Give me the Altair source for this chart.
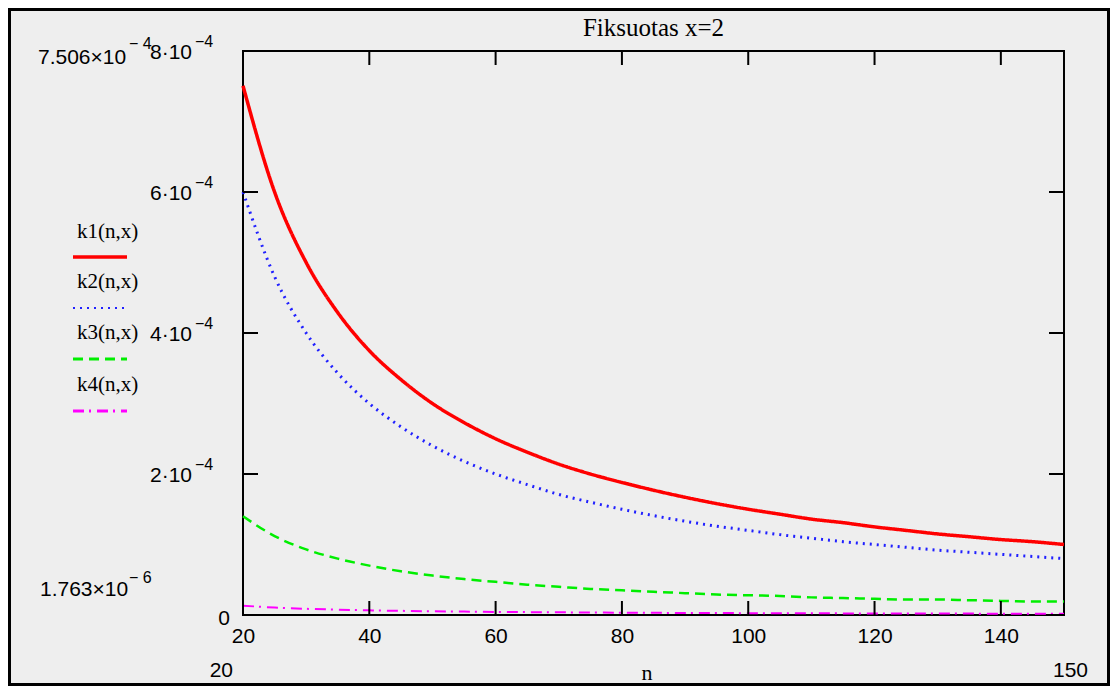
import altair as alt
import pandas as pd

# ---------------- data ----------------
n_values = [20, 25, 30, 35, 40, 45, 50, 55, 60, 65, 70, 75, 80, 85, 90, 95,
            100, 105, 110, 115, 120, 125, 130, 135, 140, 145, 150]
k1_values = [7.506e-4, 6.00e-4, 5.00e-4, 4.29e-4, 3.75e-4, 3.34e-4, 3.00e-4, 2.73e-4,
             2.50e-4, 2.31e-4, 2.14e-4, 2.00e-4, 1.88e-4, 1.77e-4, 1.67e-4, 1.58e-4,
             1.50e-4, 1.43e-4, 1.36e-4, 1.31e-4, 1.25e-4, 1.20e-4, 1.15e-4, 1.11e-4,
             1.07e-4, 1.04e-4, 1.00e-4]
k2_values = [6.00e-4, 4.80e-4, 4.00e-4, 3.43e-4, 3.00e-4, 2.67e-4, 2.40e-4, 2.18e-4,
             2.00e-4, 1.85e-4, 1.71e-4, 1.60e-4, 1.50e-4, 1.41e-4, 1.33e-4, 1.26e-4,
             1.20e-4, 1.14e-4, 1.09e-4, 1.04e-4, 1.00e-4, 0.96e-4, 0.92e-4, 0.89e-4,
             0.86e-4, 0.83e-4, 0.80e-4]
k3_values = [1.40e-4, 1.12e-4, 0.93e-4, 0.80e-4, 0.70e-4, 0.62e-4, 0.56e-4, 0.51e-4,
             0.47e-4, 0.43e-4, 0.40e-4, 0.37e-4, 0.35e-4, 0.33e-4, 0.31e-4, 0.29e-4,
             0.28e-4, 0.27e-4, 0.25e-4, 0.24e-4, 0.23e-4, 0.22e-4, 0.22e-4, 0.21e-4,
             0.20e-4, 0.19e-4, 0.19e-4]
k4_values = [1.32e-5, 1.06e-5, 0.88e-5, 0.76e-5, 0.66e-5, 0.59e-5, 0.53e-5, 0.48e-5,
             0.44e-5, 0.41e-5, 0.38e-5, 0.35e-5, 0.33e-5, 0.31e-5, 0.29e-5, 0.28e-5,
             0.26e-5, 0.25e-5, 0.24e-5, 0.23e-5, 0.22e-5, 0.21e-5, 0.20e-5, 0.196e-5,
             0.189e-5, 0.182e-5, 0.1763e-5]

series_names = ["k1(n,x)", "k2(n,x)", "k3(n,x)", "k4(n,x)"]
series_colors = ["#FF0000", "#2020FF", "#00EE00", "#FF00FF"]
series_dashes = [[1, 0], [2, 5], [10, 6], [11, 5, 2, 6]]
series_widths = [3.5, 2, 3, 3]

x_tick_values = [20, 40, 60, 80, 100, 120, 140]
y_tick_values = [0, 2e-4, 4e-4, 6e-4, 8e-4]
y_label_base = ["0", "2·10", "4·10", "6·10", "8·10"]
y_label_sup = ["", "−4", "−4", "−4", "−4"]

title_text = "Fiksuotas x=2"
x_title_text = "n"
y_max_base, y_max_sup = "7.506×10", "− 4"
y_min_base, y_min_sup = "1.763×10", "− 6"
x_min_text = "20"
x_max_text = "150"

# ---------------- build tables ----------------
rows = []
for name, vals in zip(series_names, [k1_values, k2_values, k3_values, k4_values]):
    for n, v in zip(n_values, vals):
        rows.append({"n": n, "k": v, "series": name})
df = pd.DataFrame(rows)
ylab_df = pd.DataFrame({"v": y_tick_values, "base": y_label_base, "sup": y_label_sup})
xtick_df = pd.DataFrame({"v": x_tick_values})

W, H = 821, 564
x_scale = alt.Scale(domain=[20, 150], nice=False, zero=False)
y_scale = alt.Scale(domain=[0, 8e-4], nice=False, zero=False)

SANS = "Liberation Sans"
SERIF = "Liberation Serif"
LEGEND_FONT = "Liberation Serif"

x_axis = alt.Axis(values=x_tick_values, title=None, domain=False, ticks=False,
                  grid=False, labelFont=SANS, labelFontSize=21, labelColor="black",
                  labelPadding=10, labelFlush=False)

lines = alt.Chart(df).mark_line(interpolate="monotone").encode(
    x=alt.X("n:Q", scale=x_scale, axis=x_axis),
    y=alt.Y("k:Q", scale=y_scale, axis=None),
    color=alt.Color("series:N", scale=alt.Scale(domain=series_names, range=series_colors),
                    legend=None),
    strokeDash=alt.StrokeDash("series:N",
                              scale=alt.Scale(domain=series_names, range=series_dashes),
                              legend=None),
    strokeWidth=alt.StrokeWidth("series:N",
                                scale=alt.Scale(domain=series_names, range=series_widths),
                                legend=None),
)

left_ticks = alt.Chart(ylab_df).mark_rule(color="black", strokeWidth=2).encode(
    y=alt.Y("v:Q", scale=y_scale, axis=None), x=alt.value(0), x2=alt.value(15))
right_ticks = alt.Chart(ylab_df).mark_rule(color="black", strokeWidth=2).encode(
    y=alt.Y("v:Q", scale=y_scale, axis=None), x=alt.value(W), x2=alt.value(W - 15))
bottom_ticks = alt.Chart(xtick_df).mark_rule(color="black", strokeWidth=2).encode(
    x=alt.X("v:Q", scale=x_scale, axis=x_axis), y=alt.value(H), y2=alt.value(H - 14))
top_ticks = alt.Chart(xtick_df).mark_rule(color="black", strokeWidth=2).encode(
    x=alt.X("v:Q", scale=x_scale, axis=x_axis), y=alt.value(0), y2=alt.value(14))


def ylabel_layer(test, field, px, dy, size, align):
    return alt.Chart(ylab_df).transform_filter(test).mark_text(
        font=SANS, fontSize=size, align=align, baseline="middle", dy=dy, color="black"
    ).encode(y=alt.Y("v:Q", scale=y_scale, axis=None), x=alt.value(px),
             text=f"{field}:N")


ylabels = [
    ylabel_layer("datum.v == 0", "base", -13, 4, 21, "right"),
    ylabel_layer("datum.v > 0", "base", -51, 2, 21, "right"),
    ylabel_layer("datum.v > 0", "sup", -48, -9, 16, "left"),
]


def text_layer(txt, px, py, font, size, align="left"):
    return alt.Chart(pd.DataFrame({"t": [txt]})).mark_text(
        font=font, fontSize=size, align=align, baseline="middle", color="black"
    ).encode(text="t:N", x=alt.value(px), y=alt.value(py))


annotations = [
    text_layer(title_text, W / 2, -23, SERIF, 25, "center"),
    text_layer(x_title_text, 404, 622, SERIF, 22, "center"),
    text_layer(y_max_base, -205, 7, SANS, 21),
    text_layer(y_max_sup, -114, -7, SANS, 16),
    text_layer(y_min_base, -203, 539, SANS, 21),
    text_layer(y_min_sup, -114, 527, SANS, 16),
    text_layer(x_min_text, -10, 620, SANS, 21, "right"),
    text_layer(x_max_text, 810, 620, SANS, 21),
]

legend_text_y = [181, 231, 282, 334]
legend_line_y = [206, 257, 308, 360]
legend_layers = []
for i, name in enumerate(series_names):
    legend_layers.append(text_layer(name, -166, legend_text_y[i], LEGEND_FONT, 21))
    legend_layers.append(
        alt.Chart(pd.DataFrame({"s": [name]})).mark_rule(
            color=series_colors[i], strokeWidth=series_widths[i],
            strokeDash=series_dashes[i]
        ).encode(x=alt.value(-170), x2=alt.value(-116),
                 y=alt.value(legend_line_y[i]))
    )

frame = alt.Chart(pd.DataFrame({"f": [1]})).mark_rect(
    fillOpacity=0, stroke="black", strokeWidth=3
).encode(x=alt.value(-233.5), x2=alt.value(865.5), y=alt.value(-41.5), y2=alt.value(633.5))

chart = alt.layer(
    lines, left_ticks, right_ticks, bottom_ticks, top_ticks,
    *ylabels, *annotations, *legend_layers, frame
).properties(
    width=W, height=H,
    autosize=alt.AutoSizeParams(type="none"),
    padding={"left": 235, "top": 43, "right": 46, "bottom": 71},
    background="#EEEEEE",
).configure_view(
    stroke="black", strokeWidth=2
)

chart.save("out.html", embed_options={"renderer": "svg", "actions": False})
